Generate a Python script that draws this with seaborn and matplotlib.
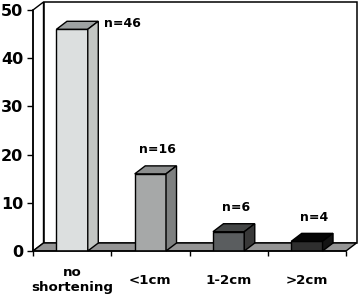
import matplotlib
matplotlib.use("Agg")
import matplotlib.pyplot as plt
import seaborn as sns
import pandas as pd
from matplotlib.patches import Polygon

# ---- data ----
categories = ["no\nshortening", "<1cm", "1-2cm", ">2cm"]
values = [46, 16, 4, 2]
bar_labels = ["n=46", "n=16", "n=6", "n=4"]
yticks = [0, 10, 20, 30, 40, 50]

# ---- styles ----
front_colors = ["#dcdfdf", "#a6a8a8", "#5a5d5f", "#2e2e2e"]
top_colors = ["#9ea2a2", "#8c8e8e", "#444646", "#050505"]
side_colors = ["#c3c6c3", "#7e8080", "#383838", "#141414"]

sns.set_theme(style="white")
plt.rcParams['font.family'] = ['DejaVu Sans']
plt.rcParams['text.color'] = 'black'
plt.rcParams['xtick.color'] = 'black'
plt.rcParams['ytick.color'] = 'black'
plt.rcParams['xtick.labelcolor'] = 'black'
plt.rcParams['ytick.labelcolor'] = 'black'

W, H = 358, 298
AX_L, AX_W = 33, 313
fig = plt.figure(figsize=(W / 100, H / 100), dpi=100)
ax = fig.add_axes([AX_L / W, 47 / H, AX_W / W, 241 / H])

df = pd.DataFrame({"cat": categories, "val": values})
sns.barplot(data=df, x="cat", y="val", hue="cat", palette=front_colors,
            width=0.40, edgecolor="black", linewidth=1.0, legend=False,
            ax=ax, saturation=1, zorder=4)
ax.set_xlim(-0.5, 3.5)
ax.set_ylim(0, 50)

# depth offsets (pixels -> data units)
dx_px, dy_px = 10.5, 8
dx = dx_px * 4.0 / AX_W
dy = dy_px * 50.0 / 241
x0a, x1a = -0.5, 3.5
ytop = 50

# back wall, left wall, floor
ax.add_patch(Polygon([(x0a + dx, dy), (x1a + dx, dy), (x1a + dx, ytop + dy), (x0a + dx, ytop + dy)],
                     closed=True, facecolor="white", edgecolor="black", lw=1.1, zorder=1, clip_on=False))
ax.add_patch(Polygon([(x0a, 0), (x0a, ytop), (x0a + dx, ytop + dy), (x0a + dx, dy)],
                     closed=True, facecolor="white", edgecolor="black", lw=1.0, zorder=1, clip_on=False))
ax.add_patch(Polygon([(x0a, 0), (x1a, 0), (x1a + dx, dy), (x0a + dx, dy)],
                     closed=True, facecolor="#959595", edgecolor="black", lw=1.0, zorder=2, clip_on=False))

# 3D tops and sides for each bar
bars = [p for p in ax.patches if p.get_zorder() == 4]
for i, p in enumerate(bars):
    bx, bw, bh = p.get_x(), p.get_width(), p.get_height()
    ax.add_patch(Polygon([(bx, bh), (bx + bw, bh), (bx + bw + dx, bh + dy), (bx + dx, bh + dy)],
                         closed=True, facecolor=top_colors[i], edgecolor="black", lw=1.0, zorder=4, clip_on=False))
    ax.add_patch(Polygon([(bx + bw, 0), (bx + bw + dx, dy), (bx + bw + dx, bh + dy), (bx + bw, bh)],
                         closed=True, facecolor=side_colors[i], edgecolor="black", lw=1.0, zorder=4, clip_on=False))
    if i == 0:
        ax.annotate(bar_labels[i], xy=(bx + bw + dx, bh + dy), xytext=(6, -2),
                    textcoords="offset pixels", ha="left", va="center",
                    fontsize=9, fontweight="bold", color="black", zorder=6)
    else:
        ax.annotate(bar_labels[i], xy=(bx + bw / 2 + dx / 2, bh + dy), xytext=(2, 16),
                    textcoords="offset pixels", ha="center", va="center",
                    fontsize=9, fontweight="bold", color="black", zorder=6)

# axes styling
for s in ["top", "right"]:
    ax.spines[s].set_visible(False)
for s in ["left", "bottom"]:
    ax.spines[s].set_color("black")
    ax.spines[s].set_linewidth(1.1)
    ax.spines[s].set_zorder(5)

ax.set_yticks(yticks)
ax.set_yticklabels([str(v) for v in yticks], fontsize=11.5, fontweight="bold", color="black")
ax.tick_params(axis="y", direction="out", length=4.5, width=1, color="black", pad=2.5, left=True)

ax.set_xticks([-0.5, 0.5, 1.5, 2.5, 3.5])
ax.set_xticklabels([])
ax.set_xticks([0, 1, 2, 3], minor=True)
ax.set_xticklabels(categories, minor=True, fontsize=9.6, fontweight="bold", linespacing=1.25, color="black")
ax.tick_params(axis="x", which="major", direction="out", length=3.5, width=1, color="black", bottom=True)
ax.tick_params(axis="x", which="minor", length=0, pad=21, bottom=True)
for lab in ax.get_xticklabels(minor=True):
    lab.set_va("center")

ax.set_xlabel("")
ax.set_ylabel("")
ax.grid(False)
ax.set_facecolor("none")

fig.savefig("out.png", dpi=100)
